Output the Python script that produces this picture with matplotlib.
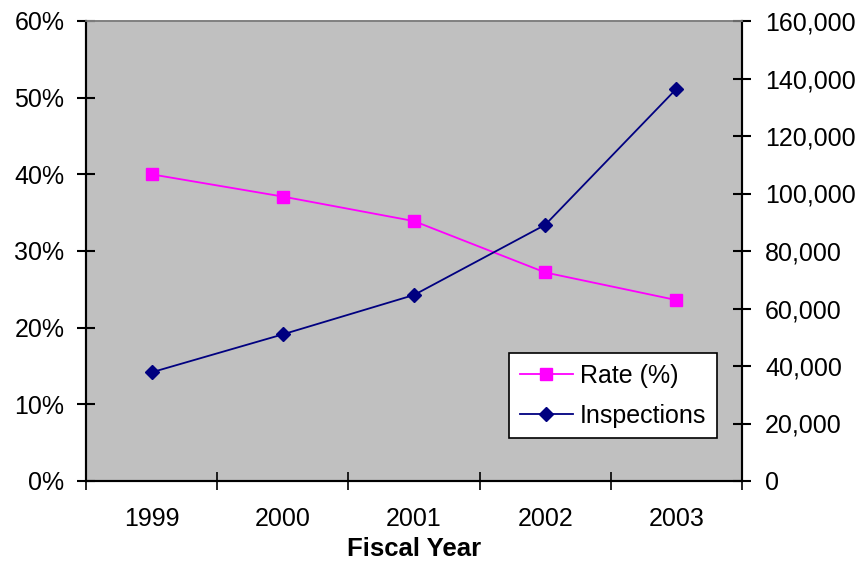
import matplotlib
matplotlib.use("Agg")
import matplotlib.pyplot as plt
from matplotlib.ticker import FuncFormatter, FixedLocator

years = ["1999", "2000", "2001", "2002", "2003"]
rate = [40.0, 37.1, 33.9, 27.2, 23.6]
inspections = [37800, 51000, 64700, 89100, 136400]
left_ticks = [0, 10, 20, 30, 40, 50, 60]
right_ticks = [0, 20000, 40000, 60000, 80000, 100000, 120000, 140000, 160000]

plt.rcParams['font.family'] = ['Liberation Sans', 'DejaVu Sans']

fig = plt.figure(figsize=(8.59, 5.61), dpi=100)
ax = fig.add_axes([86/859, 1 - 481/561, (742-86)/859, (481-21)/561])
ax2 = ax.twinx()

ax.set_facecolor('#C0C0C0')
x = list(range(len(years)))
ax.plot(x, rate, color='#FF00FF', lw=1.3, marker='s', ms=8.5, mec='#FF00FF', mfc='#FF00FF', label='Rate (%)', zorder=3)
ax2.plot(x, inspections, color='#000080', lw=1.3, marker='D', ms=7.5, mec='#000080', mfc='#000080', label='Inspections', zorder=3)

ax.set_xlim(-0.5, len(years) - 0.5)
ax.set_ylim(0, 60)
ax2.set_ylim(0, 160000)
ax.set_yticks(left_ticks)
ax.yaxis.set_major_formatter(FuncFormatter(lambda v, p: f"{int(v)}%"))
ax2.set_yticks(right_ticks)
ax2.yaxis.set_major_formatter(FuncFormatter(lambda v, p: f"{int(v):,}"))

ax.set_xticks(x)
ax.set_xticklabels(years)
ax.xaxis.set_minor_locator(FixedLocator([i - 0.5 for i in range(len(years) + 1)]))
ax.tick_params(axis='x', which='major', length=0, pad=19, labelsize=18)
ax.tick_params(axis='x', which='minor', direction='inout', length=13, width=1.2, color='black')
ax.tick_params(axis='y', direction='inout', length=13, width=1.5, labelsize=18, pad=9)
ax2.tick_params(axis='y', direction='inout', length=13, width=1.5, labelsize=18, pad=10)

for a in (ax, ax2):
    a.spines['top'].set_color('#808080')
    a.spines['top'].set_linewidth(1.2)
    a.spines['left'].set_linewidth(1.5)
    a.spines['right'].set_linewidth(1.5)
    a.spines['bottom'].set_linewidth(1.5)

ax.set_xlabel("Fiscal Year", fontsize=18.5, fontweight='bold', labelpad=4)

h1, l1 = ax.get_legend_handles_labels()
h2, l2 = ax2.get_legend_handles_labels()
leg = ax2.legend(h1 + h2, l1 + l2, loc='upper left',
                 bbox_to_anchor=((509-86)/656, (481-353)/460),
                 fancybox=False, framealpha=1, edgecolor='black',
                 fontsize=18, borderpad=0.42, handlelength=2.15, handletextpad=0.28, labelspacing=0.65,
                 borderaxespad=0)
leg.get_frame().set_linewidth(1.2)

fig.savefig("out.png", dpi=100)
